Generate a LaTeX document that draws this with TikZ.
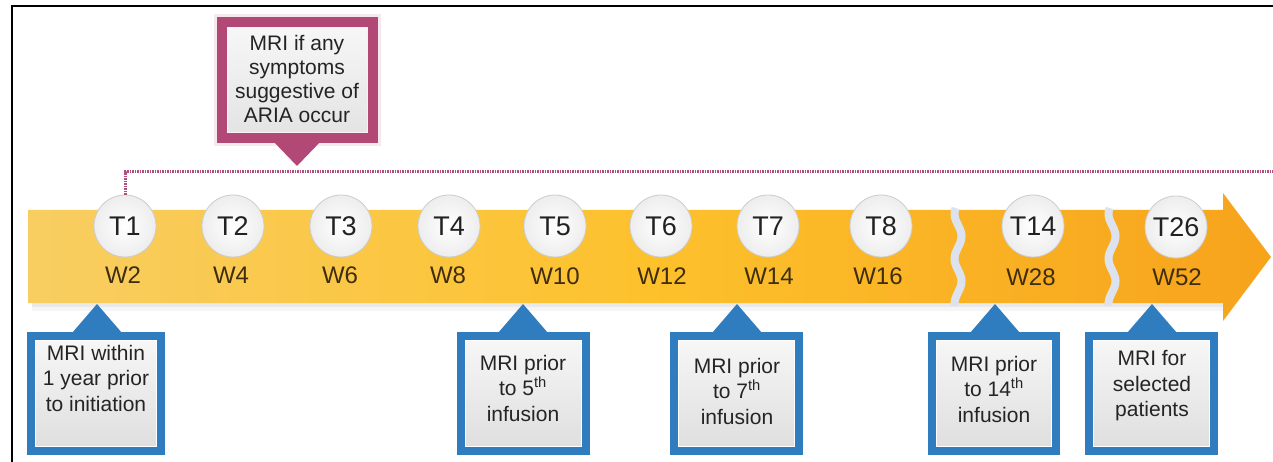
\documentclass[tikz,border=0pt]{standalone}
\usepackage{fontspec}
\setmainfont{Liberation Sans}
\definecolor{bandL}{HTML}{F8CE62}
\definecolor{bandM}{HTML}{FDC12C}
\definecolor{bandR}{HTML}{F7A31C}
\definecolor{calloutBlue}{HTML}{2F7DBF}
\definecolor{calloutPink}{HTML}{B24875}
\definecolor{dotPink}{HTML}{B0507F}
\definecolor{labelInk}{HTML}{222222}
\definecolor{weekInk}{HTML}{3F2D0E}
\definecolor{gapTint}{HTML}{DCE3EE}
\begin{document}
\begin{tikzpicture}[x=1pt,y=-1pt,
  tick/.style={circle, minimum size=62pt, inner sep=0pt, draw=gray!40, line width=0.8pt,
    inner color=white, outer color=gray!14, font=\fontsize{27}{27}\selectfont, text=labelInk},
  week/.style={font=\fontsize{24}{24}\selectfont, text=weekInk},
  bluebox/.style={draw=calloutBlue, line width=8pt, top color=white!97!black,
    bottom color=white!87!black, minimum height=115pt, inner sep=0pt, outer sep=0pt},
  pinkbox/.style={draw=calloutPink, line width=10pt, top color=white!97!black,
    bottom color=white!89!black, minimum width=151pt, minimum height=116pt,
    inner sep=0pt, outer sep=0pt},
  calltext/.style={align=center, font=\fontsize{21}{25.5}\selectfont, text=black!86},
  pinktext/.style={align=center, font=\fontsize{21}{24}\selectfont, text=black!86},
  dotline/.style={draw=dotPink, line width=3pt, dash pattern=on 1.2pt off 1.3pt},
  gapline/.style={draw=gapTint, line width=8pt},
  inneredge/.style={draw=white, line width=1pt}
]
\useasboundingbox (0,0) rectangle (1273,462);

% frame lines
\draw[line width=2pt] (12,462) -- (12,6) -- (1273,6);

% soft band shadow
\fill[black, opacity=0.04] (32,303) rectangle (1223,311);
\fill[black, opacity=0.05] (32,303) rectangle (1223,307);

% timeline band with arrow head
\shade[left color=bandL, right color=bandR, middle color=bandM]
  (28,210) -- (1223,210) -- (1223,193) -- (1271,257) -- (1223,321)
  -- (1223,303) -- (28,303) -- cycle;

% torn breaks in the band
\draw[gapline] plot[domain=208:306, samples=60, smooth] ({958+3.5*sin(8*\x)}, \x);
\draw[gapline] plot[domain=208:306, samples=60, smooth] ({1112+3.5*sin(8*\x)}, \x);

% treatment markers
\node[tick] (t1) at (125,226) {T1};
\node[tick] (t2) at (233,226) {T2};
\node[tick] (t3) at (341,226) {T3};
\node[tick] (t4) at (449,226) {T4};
\node[tick] (t5) at (555,226) {T5};
\node[tick] (t6) at (661,226) {T6};
\node[tick] (t7) at (768,226) {T7};
\node[tick] (t8) at (881,226) {T8};
\node[tick] (t14) at (1033,226) {T14};
\node[tick] (t26) at (1176,227) {T26};

% week labels
\node[week] (w2) at (123,275) {W2};
\node[week] (w4) at (231,275) {W4};
\node[week] (w6) at (340,275) {W6};
\node[week] (w8) at (448,275) {W8};
\node[week] (w10) at (555,276) {W10};
\node[week] (w12) at (662,276) {W12};
\node[week] (w14) at (769,276) {W14};
\node[week] (w16) at (878,276) {W16};
\node[week] (w28) at (1031,277) {W28};
\node[week] (w52) at (1177,277) {W52};

% dotted symptom line
\coordinate (dotEnd) at (1273,172);
\draw[dotline] (t1.north) -- (t1.north |- dotEnd) -- (dotEnd);

% pink callout
\fill[calloutPink!12] (214,14) rectangle (381,146);
\node[pinkbox] (pinkcall) at (297.5,80) {};
\coordinate (pinktip) at (297,166);
\fill[calloutPink] (272,140) -- (pinktip) -- (322,140) -- cycle;
\draw[draw=white!92!calloutPink, line width=1pt] ([shift={(5.5,5.5)}]pinkcall.north west) rectangle ([shift={(-5.5,-5.5)}]pinkcall.south east);
\node[pinktext] (pinklabel) at (297,79) {MRI if any\\symptoms\\suggestive of\\ARIA occur};

% blue callouts
\node[bluebox, minimum width=130pt] (cb1) at (96,393.5) {};
\node[bluebox, minimum width=125pt] (cb2) at (523.5,393.5) {};
\node[bluebox, minimum width=125pt] (cb3) at (736.5,393.5) {};
\node[bluebox, minimum width=124pt] (cb4) at (994,393.5) {};
\node[bluebox, minimum width=125pt] (cb5) at (1151.5,393.5) {};

\foreach \b/\tx in {cb1/97, cb2/523, cb3/737, cb4/995, cb5/1152}{
  \coordinate (\b tip) at (\tx,304);
  \fill[calloutBlue] (\tx-25,333) -- (\b tip) -- (\tx+25,333) -- cycle;
  \draw[inneredge] ([shift={(4.5,4.5)}]\b.north west) rectangle ([shift={(-4.5,-4.5)}]\b.south east);
}

\node[calltext] (ct1) at (96,378) {MRI within\\1 year prior\\to initiation};
\node[calltext] (ct2) at (523,388) {MRI prior\\to 5\textsuperscript{th}\\infusion};
\node[calltext] (ct3) at (737,391) {MRI prior\\to 7\textsuperscript{th}\\infusion};
\node[calltext] (ct4) at (994,389) {MRI prior\\to 14\textsuperscript{th}\\infusion};
\node[calltext] (ct5) at (1152,386) {MRI for\\selected\\patients};
\end{tikzpicture}
\end{document}
